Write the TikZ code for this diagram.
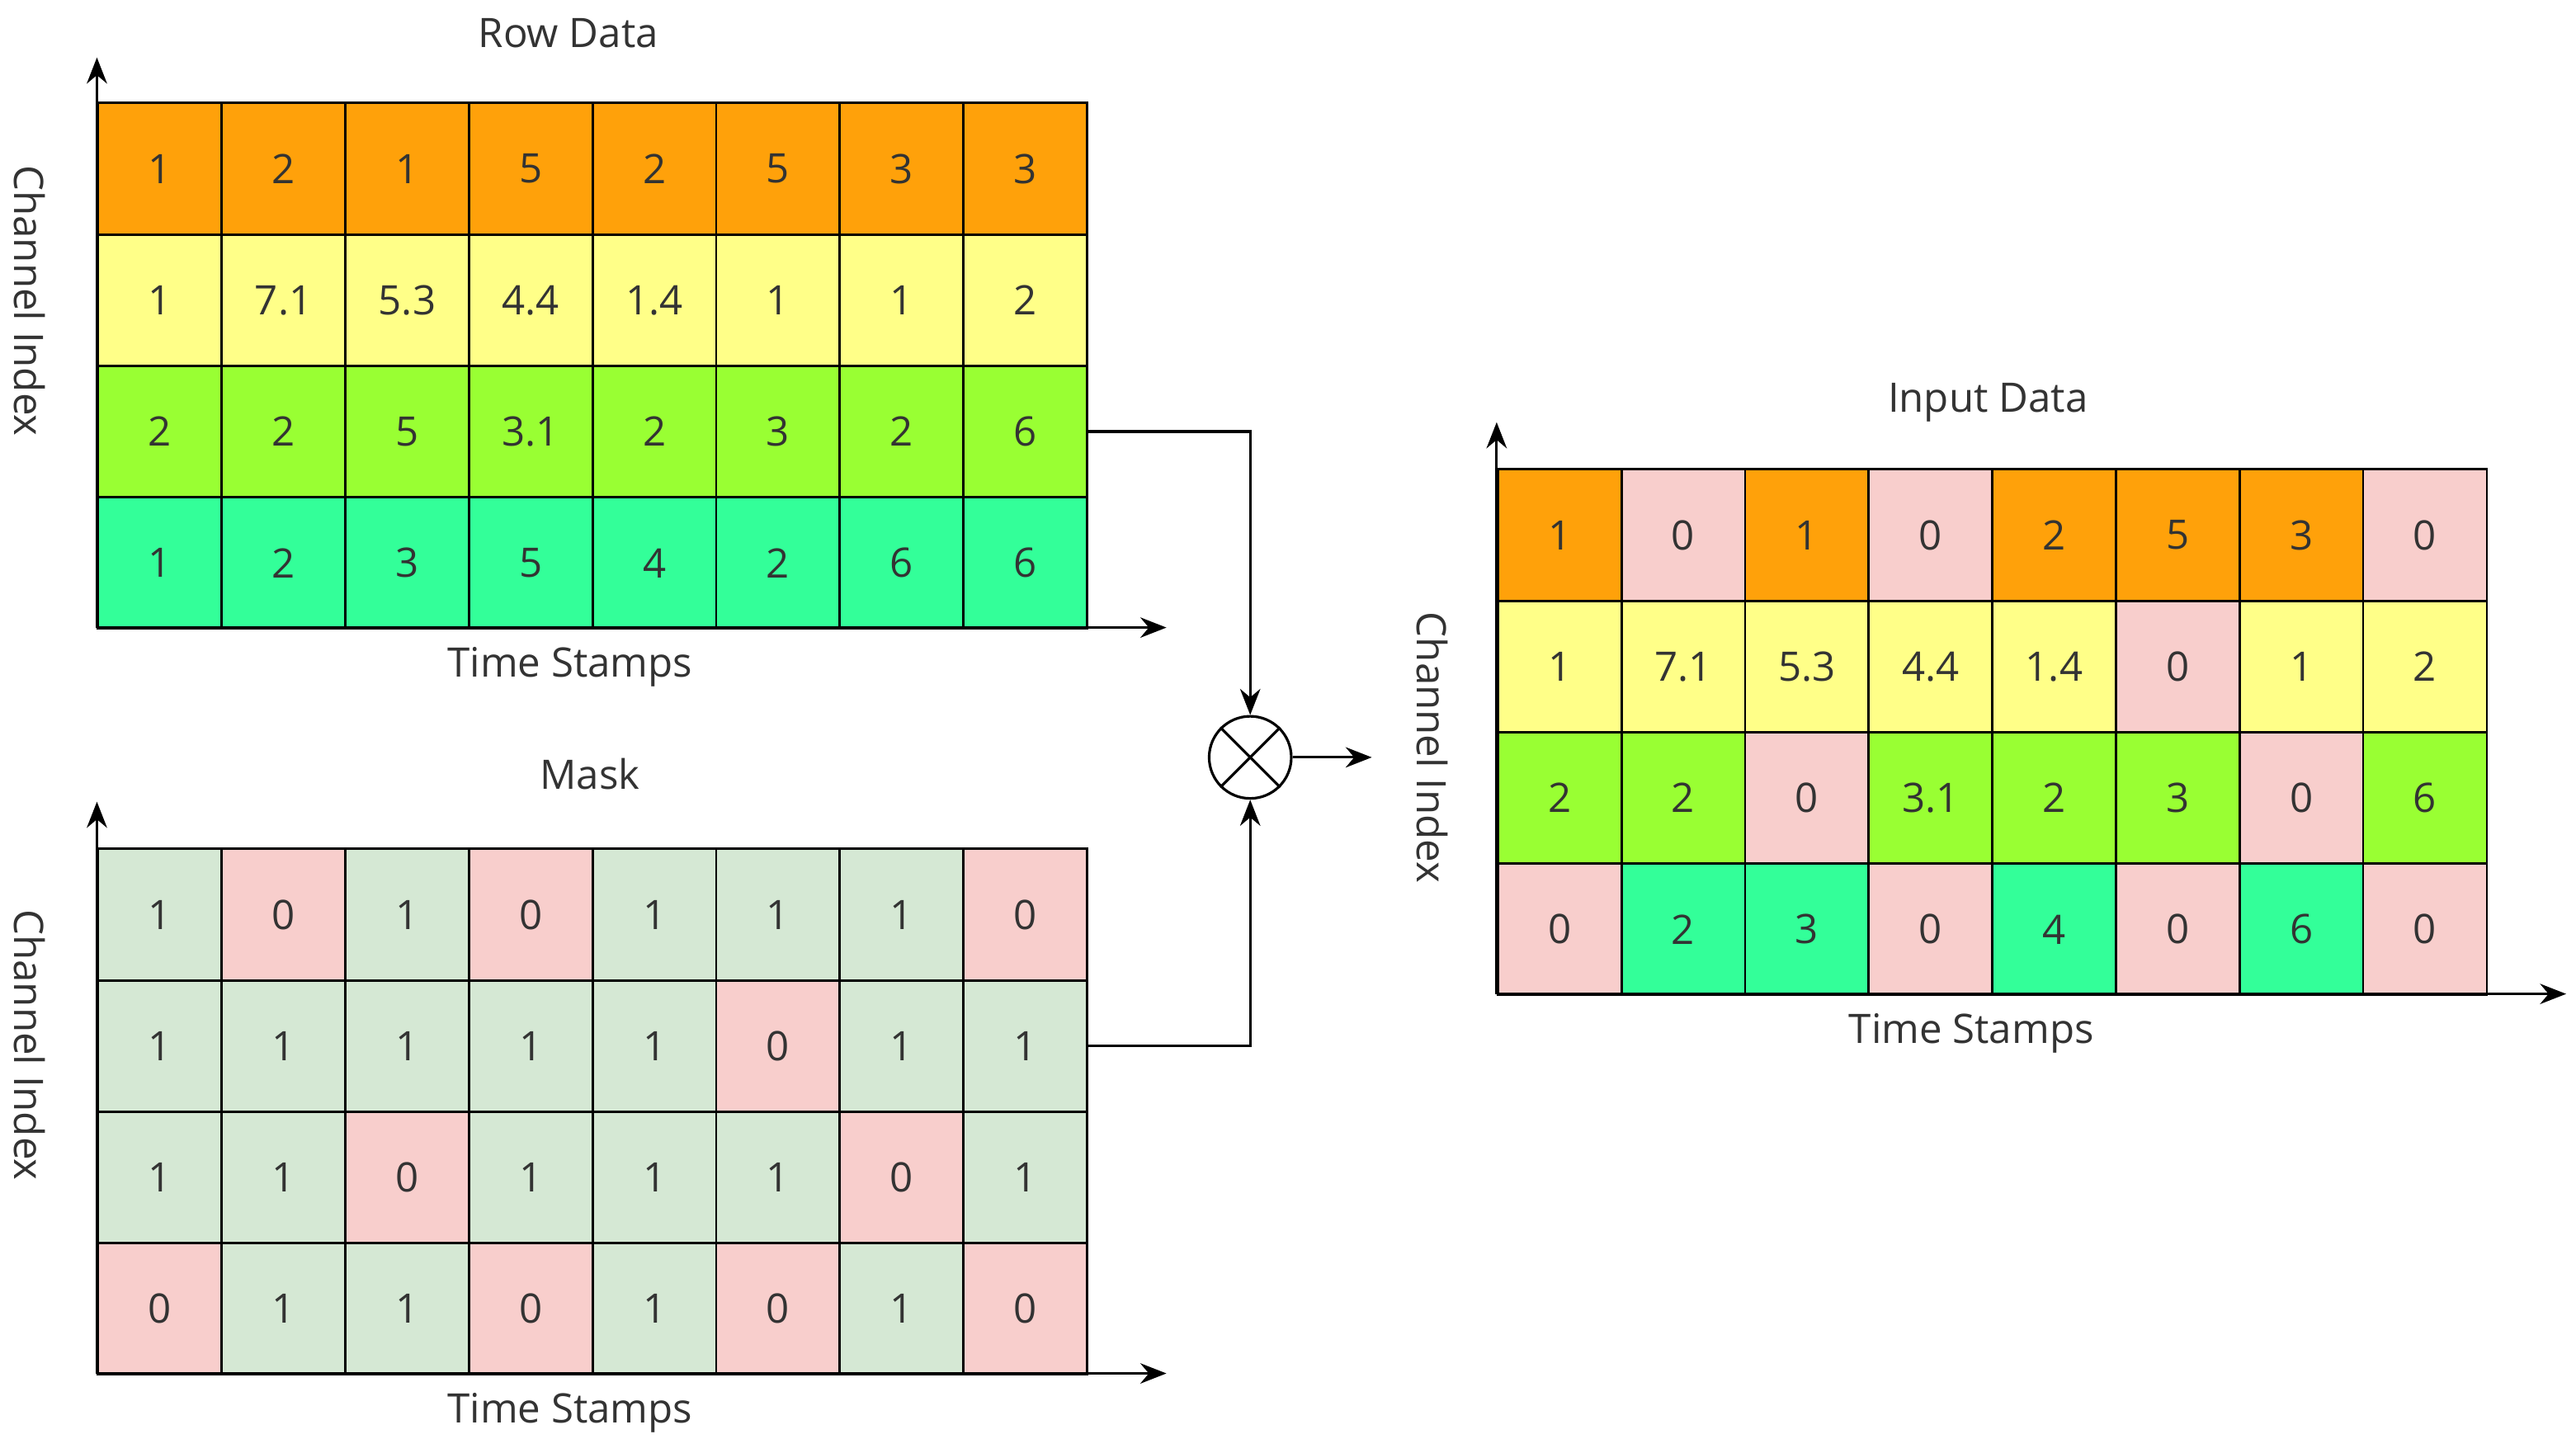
\documentclass[tikz,border=0pt]{standalone}
\usepackage{fontspec}
\setmainfont{Open Sans}
\usetikzlibrary{arrows.meta}
\definecolor{cO}{HTML}{FFA10A}
\definecolor{cY}{HTML}{FFFF88}
\definecolor{cG}{HTML}{99FF33}
\definecolor{cT}{HTML}{33FF99}
\definecolor{cP}{HTML}{F8CECC}
\definecolor{cL}{HTML}{D5E8D4}
\definecolor{txt}{HTML}{333333}
\begin{document}
\begin{tikzpicture}[x=0.01991cm,y=-0.01991cm,
  cell/.style={draw=black,line width=0.8pt,minimum width=75.25*0.01991cm,minimum height=80*0.01991cm,inner sep=0pt,font=\fontsize{14}{16}\selectfont,text=txt,anchor=north west},
  lbl/.style={font=\fontsize{14}{16}\selectfont,text=txt},
  ax/.style={line width=0.9pt,-{Stealth[length=9pt,width=7pt]}},
  con/.style={line width=0.9pt,-{Stealth[length=9pt,width=7pt]}}]
\useasboundingbox (0,0) rectangle (1568,884);
\def\rowcols{{"cO","cY","cG","cT"}}
\def\rdata{{{1,2,1,5,2,5,3,3},{1,7.1,5.3,4.4,1.4,1,1,2},{2,2,5,3.1,2,3,2,6},{1,2,3,5,4,2,6,6}}}
\def\mdata{{{1,0,1,0,1,1,1,0},{1,1,1,1,1,0,1,1},{1,1,0,1,1,1,0,1},{0,1,1,0,1,0,1,0}}}
\def\rtext{{{"1","2","1","5","2","5","3","3"},{"1","7.1","5.3","4.4","1.4","1","1","2"},{"2","2","5","3.1","2","3","2","6"},{"1","2","3","5","4","2","6","6"}}}
\foreach \r in {0,...,3}{
 \foreach \c in {0,...,7}{
  \pgfmathsetmacro{\col}{\rowcols[\r]}
  \pgfmathsetmacro{\txt}{\rtext[\r][\c]}
  \pgfmathtruncatemacro{\m}{\mdata[\r][\c]}
  \node[cell,fill=\col] (r\r\c) at (59+75.25*\c,62+80*\r) {\txt};
  \ifnum\m=1
    \node[cell,fill=cL] (m\r\c) at (59+75.25*\c,516+80*\r) {1};
    \node[cell,fill=\col] (i\r\c) at (911+75.25*\c,285+80*\r) {\txt};
  \else
    \node[cell,fill=cP] (m\r\c) at (59+75.25*\c,516+80*\r) {0};
    \node[cell,fill=cP] (i\r\c) at (911+75.25*\c,285+80*\r) {0};
  \fi
 }}
% axes
\coordinate (o1) at (59,382); \coordinate (y1) at (59,35); \coordinate (x1) at (710,382);
\coordinate (o2) at (59,836); \coordinate (y2) at (59,488); \coordinate (x2) at (710,836);
\coordinate (o3) at (911,605); \coordinate (y3) at (911,257); \coordinate (x3) at (1562,605);
\draw[ax] (o1) -- (y1); \draw[ax] (o1) -- (x1);
\draw[ax] (o2) -- (y2); \draw[ax] (o2) -- (x2);
\draw[ax] (o3) -- (y3); \draw[ax] (o3) -- (x3);
% labels
\node[lbl] (t1) at (346,20) {Row Data};
\node[lbl] (s1) at (347,406) {Time Stamps};
\node[lbl,rotate=-90] (c1) at (18,183) {Channel Index};
\node[lbl] (t2) at (359,471) {Mask};
\node[lbl] (s2) at (347,860) {Time Stamps};
\node[lbl,rotate=-90] (c2) at (18,636) {Channel Index};
\node[lbl] (t3) at (1210,245) {Input Data};
\node[lbl] (s3) at (1200,629) {Time Stamps};
\node[lbl,rotate=-90] (c3) at (872,455) {Channel Index};
% multiply
\node[draw,circle,line width=0.9pt,minimum size=50*0.01991cm,inner sep=0pt] (mul) at (761,461) {};
\draw[line width=0.9pt] (mul.north west) -- (mul.south east) (mul.north east) -- (mul.south west);
\coordinate (out) at (835,461);
\draw[con] (r27.east) -| (mul.north);
\draw[con] (m17.east) -| (mul.south);
\draw[con] (mul.east) -- (out);
\end{tikzpicture}
\end{document}
